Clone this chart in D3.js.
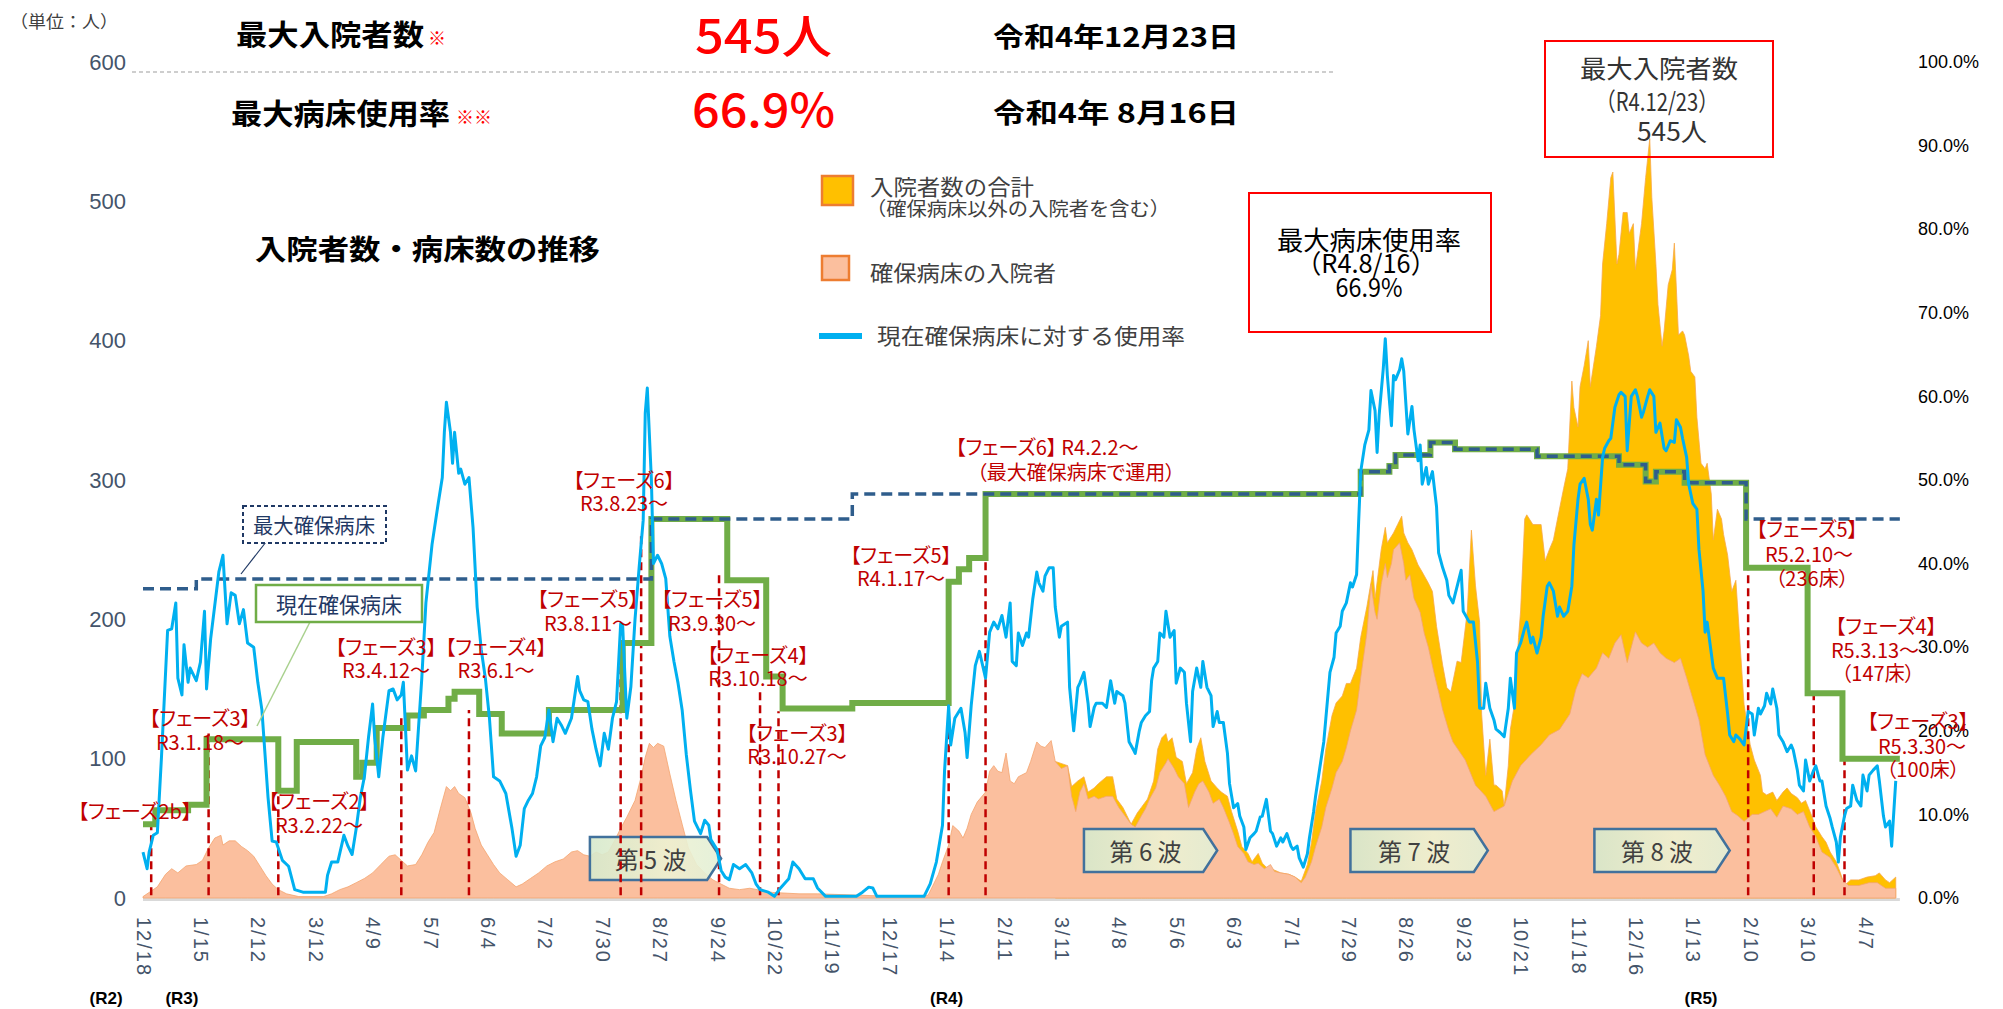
<!DOCTYPE html>
<html>
<head>
<meta charset="utf-8">
<script src="https://cdn.jsdelivr.net/npm/d3@7"></script>
<style>
  body { margin: 0; background: #fff; }
  svg text { font-family: "Noto Sans CJK JP", sans-serif; }
  .palt { font-feature-settings: "palt"; }
</style>
</head>
<body>
<div id="viz"></div>
<script>
// days counted from 2020-12-18 (R2.12.18)
var startDate = new Date(2020, 11, 18);

var tickLabels = ["12/18","1/15","2/12","3/12","4/9","5/7","6/4","7/2","7/30","8/27","9/24","10/22","11/19","12/17",
  "1/14","2/11","3/11","4/8","5/6","6/3","7/1","7/29","8/26","9/23","10/21","11/18","12/16","1/13","2/10","3/10","4/7"];
var eraLabels = [["(R2)", -18], ["(R3)", 19], ["(R4)", 392], ["(R5)", 760]];

// 現在確保病床に対する使用率 (%)
var usageRate = [
[0,5.5],[2,3.5],[3,5.5],[5,7.5],[7,7.8],[9,16.8],[12,32],[14,32.2],[16,35.3],[17,26.3],[19,24.3],[20,30.3],[22,25.8],[23,27.5],[26,26],[28,28.2],[30,34.3],[31,25],[33,31],[37,39],[39,41],[41,32.8],[43,36.5],[45,36.2],[47,32.8],[49,34.5],[51,30.5],[54,30],[56,25.8],[58,22.5],[61,12],[63,6.8],[65,6.7],[68,4.5],[71,3.8],[74,1],[78,0.7],[89,0.7],[90,2.7],[92,4.3],[95,4.3],[98,7.5],[100,6.2],[102,5.2],[104,8.3],[106,12],[108,14.5],[110,19.2],[112,23.2],[113,19.2],[115,14.5],[117,19.2],[120,24.8],[122,25],[124,23.7],[126,24.3],[127,25.8],[129,15.3],[131,17],[133,15.2],[136,26.3],[138,35.3],[141,42.3],[144,47.2],[146,50.3],[147,55.7],[148,59.3],[150,55.7],[151,52],[152,55.7],[154,50.8],[155,51.3],[157,49.5],[159,50.3],[161,44.3],[163,34.8],[165,29.7],[167,26.3],[169,21.5],[171,14.5],[174,14],[177,12.5],[180,8.3],[182,5],[184,6.3],[186,10.7],[188,11.7],[190,12.5],[192,14.5],[194,18.2],[196,19.2],[198,22.5],[200,18.7],[202,21.5],[204,20.7],[206,19.7],[209,21.5],[212,26.5],[213,24.8],[215,23.7],[217,23.5],[219,20.2],[221,17.8],[223,15.8],[225,19.7],[227,17.8],[229,21.5],[231,23.5],[233,32.8],[234,32.5],[236,21.5],[238,25.3],[240,33.3],[242,39.5],[244,45.2],[245,58],[246,61],[248,50],[249,40],[251,41],[253,40],[255,38.2],[257,31.3],[259,28.3],[261,25.7],[263,22.5],[265,17.2],[267,13],[269,9.2],[272,7.7],[274,9.3],[276,8.7],[277,7],[280,5.8],[282,3.3],[284,2.5],[286,2.2],[288,4],[291,3.5],[294,4],[297,3],[299,1.7],[301,1],[305,0.7],[308,0.2],[311,1.2],[315,2.3],[317,4.3],[320,3.5],[323,2.3],[327,2.3],[329,1.2],[333,0.2],[348,0.2],[351,0.7],[354,1.3],[356,1.2],[358,0.2],[381,0.2],[384,1.7],[387,4.3],[390,8.7],[391,15.2],[393,23],[394,18.3],[396,21.5],[399,22.7],[401,19.8],[402,16.8],[404,23],[406,27.8],[408,29.5],[411,26.3],[413,31.8],[415,33],[417,32.2],
[419,33.8],[421,31.2],[423,35.3],[424,28.3],[426,27.8],[427,31.7],[429,30.2],[431,31.7],[432,31.2],[434,35.7],[436,39],[437,37.7],[439,36.7],[440,38.5],[442,39.5],[444,39.5],[445,34.8],[447,31.2],[448,32.5],[451,33],[452,25.2],[454,20],[456,25.2],[457,25.7],[459,27],[461,23.3],[462,20.5],[464,22.8],[465,23.3],[468,23.3],[470,22.8],[472,26],[474,23.3],[475,24.7],[478,24.2],[479,23.3],[481,18.7],[483,17.8],[484,17.3],[486,20],[487,21],[489,21.8],[491,22.3],[492,26],[493,27.5],[495,28.3],[496,31.7],[498,31.2],[499,34.3],[501,31.2],[503,32],[504,25.7],[506,27.5],[508,27],[509,23.3],[511,18.7],[512,24.7],[514,27.5],[516,25.2],[517,28.3],[519,25.2],[521,24.2],[522,20.5],[524,22.3],[525,21],[527,21],[529,17.3],[530,13.7],[532,10.8],[534,11.3],[535,9.8],[537,8.5],[538,5.8],[540,7.2],[542,7.7],[543,8],[545,9.7],[546,9.8],[548,11.8],[550,8],[551,7.7],[553,6.2],[555,7.2],[556,6.7],[558,7.7],[560,6.2],[561,5.8],[563,6.2],[564,4.8],[566,3.7],[568,5.3],[569,7.2],[571,10.3],[572,12.2],[574,15.5],[576,18.7],[577,21.5],[579,27],[581,28.8],[582,31.7],[584,32.5],[585,34.3],[587,35.3],[589,37.7],[590,37.2],[592,38.7],[593,45],[594,51],[596,54.2],[598,56],[599,60.7],[601,58.3],[602,53.3],[603,57.8],[605,63.3],[606,66.9],[607,62.5],[609,56.5],[610,62.5],[611,62],[613,63.2],[614,64.5],[615,63],[617,55.5],[619,58.8],[620,56],[622,52.3],[623,54.2],[624,49.5],[626,51.5],[627,49.5],[629,51],[631,46.8],[632,41.3],[634,39.5],[636,38],[637,36.2],[639,35.3],
[643,39.2],[644,34.3],[647,33],[649,33],[651,28.2],[652,22.7],[654,22.7],[655,25.7],[657,22.7],[659,21.3],[660,20.2],[662,19.8],[664,19.3],[666,22.7],[667,26.3],[669,22.7],[670,29.3],[672,30.5],[674,32.3],[675,33],[677,30.5],[678,31.2],[680,29.3],[682,31.2],[683,33.7],[685,37.3],[686,37.7],[688,36.7],[690,33.7],[691,34.8],[693,33.7],[695,34.3],[697,37.3],[698,42.2],[700,47.7],[701,49.5],[703,50.2],[705,47.7],[706,44.7],[707,44],[709,47.7],[710,45.8],[712,52.7],[713,53.8],[715,54.7],[716,55],[718,58.7],[720,60.2],[721,60.5],[723,60],[724,53.5],[726,60],[728,60.8],[729,60],[731,57.5],[732,58.2],[734,60],[735,60.8],[737,60],[738,55.7],[740,56.8],[742,53.8],[743,53.5],[745,54.7],[747,54.5],[748,57.2],[750,56.3],[751,55],[753,52.7],[754,49.5],[756,47.2],[758,46.5],[759,41.7],[761,36.7],[762,31.8],[763,33],[765,29.3],[766,27.5],[768,26.3],[771,26.3],[773,22],[774,19.5],[776,18.7],[777,19.5],[779,19],[781,18.3],[783,22.3],[785,22],[786,19.5],[788,22.7],[789,22],[791,23],[792,24.5],[794,23.2],[795,25],[797,22.7],[798,19.5],[800,18.7],[802,17.5],[804,18.3],[805,17.7],[807,15.3],[808,13.5],[810,12.8],[811,16.5],[813,14],[815,15.3],[816,15.8],[818,14],[819,14],[821,11],[823,9.5],[824,8.5],[826,6.7],[827,4.3],[828,7.3],[830,9.8],[831,10.7],[833,11],[834,13.5],[836,11.7],[838,11],[839,14.7],[841,12.8],[842,14.7],[844,15.3],[846,15.8],[847,14],[849,9.8],[850,8.5],[852,9.2],[853,6.2],[855,14]
];

// 確保病床の入院者 (人)
var securedPatients = [
[0,1],[3,4],[7,8],[11,17],[14,21],[17,18],[21,23],[26,24],[29,27],[32,36],[35,43],[38,45],[39,38],[42,41],[45,41],[48,37],[51,34],[54,30],[57,23],[60,16],[63,10],[66,6],[70,3],[76,1],[88,1],[92,3],[96,6],[100,8],[104,11],[108,14],[112,18],[116,24],[120,30],[123,31],[126,27],[129,23],[133,24],[136,31],[139,40],[142,47],[145,64],[148,80],[150,77],[152,80],[154,75],[157,72],[160,61],[162,50],[165,38],[168,31],[171,24],[174,18],[178,13],[182,8],[185,10],[189,14],[193,18],[197,23],[201,26],[205,28],[209,33],[212,34],[215,31],[218,30],[221,33],[224,31],[227,33],[230,41],[233,50],[236,58],[240,70],[243,87],[245,101],[247,111],[249,108],[251,111],[254,109],[257,89],[260,70],[263,53],[266,36],[270,24],[274,18],[278,13],[282,10],[286,7],[291,6],[296,7],[307,4],[320,3],[329,3],[350,2],[368,1],[383,2],[388,17],[390,26],[393,38],[395,52],[398,48],[400,43],[402,50],[404,60],[407,69],[411,76],[413,91],[415,95],[417,91],
[419,90],[421,104],[423,84],[425,82],[427,87],[431,90],[433,98],[436,112],[438,109],[440,108],[443,113],[445,98],[448,93],[451,95],[453,73],[455,62],[457,76],[459,82],[461,71],[464,73],[466,71],[470,73],[473,73],[476,65],[479,59],[482,53],[484,51],[487,59],[489,64],[491,71],[494,79],[496,90],[499,97],[500,100],[503,93],[505,87],[508,82],[510,65],[513,76],[515,82],[517,84],[520,76],[522,68],[525,71],[527,65],[530,54],[532,46],[534,37],[537,32],[539,26],[542,24],[544,25],[547,21],[550,24],[552,19],[555,18],[559,17],[562,15],[565,11],[567,15],[570,26],[572,37],[575,51],[577,65],[580,79],[582,90],[585,98],[587,108],[589,120],[592,135],[594,158],[597,190],[599,225],[601,205],[602,200],[604,225],[606,240],[607,230],[609,240],[610,250],[613,255],[615,240],[616,228],[618,232],[620,215],[623,205],[625,190],[627,180],[630,160],[632,148],[634,135],[637,120],[639,112],
[645,99],[650,81],[655,73],[659,62],[664,66],[668,84],[672,95],[677,103],[682,110],[686,117],[691,121],[696,132],[699,150],[702,161],[705,158],[709,165],[712,176],[715,172],[718,183],[721,189],[724,169],[728,191],[731,183],[734,180],[737,183],[740,176],[743,172],[747,169],[750,172],[753,158],[756,143],[759,128],[762,103],[766,88],[769,81],[772,73],[775,62],[778,59],[781,55],[785,60],[788,60],[791,62],[794,64],[797,58],[800,66],[804,64],[807,60],[810,62],[813,51],[816,44],[819,33],[823,29],[826,22],[829,13],[832,9],[837,9],[842,11],[846,11],[850,7],[855,7]
];

// 入院者数の合計 (人) — equal to the secured figure before R4.3
var totalPatients = [
[445,98],[451,95],[453,80],[456,84],[459,87],[461,76],[464,79],[466,82],[470,87],[473,87],[475,71],[478,65],[480,59],[482,53],[485,61],[487,65],[490,71],[493,84],[495,107],[497,115],[499,118],[500,112],[502,115],[504,101],[507,98],[509,82],[512,90],[514,107],[516,115],[518,98],[521,84],[524,79],[526,76],[529,73],[531,62],[534,48],[536,37],[539,32],[541,26],[544,32],[546,25],[548,22],[552,20],[555,18],[559,17],[562,15],[565,12],[568,24],[570,40],[572,62],[575,84],[577,107],[580,131],[582,140],[585,145],[587,154],[589,154],[592,165],[594,187],[597,209],[600,235],[601,215],[604,250],[606,266],[607,255],[610,262],[612,268],[614,274],[615,262],[617,255],[619,250],[622,239],[624,234],[627,226],[629,220],[631,195],[634,167],[636,151],[638,148],[641,170],[643,169],[646,206],[648,264],[650,224],[652,198],[653,132],[655,88],[657,114],[659,81],[660,81],[663,77],[664,66],[666,95],[667,121],[669,139],[671,187],[672,206],[674,272],[675,275],[678,268],[680,268],[682,268],[684,242],[686,250],[688,257],[690,272],[693,294],[695,308],[697,371],[698,352],[700,338],[701,367],[703,382],[705,400],[706,367],[709,396],[711,418],[712,455],[714,484],[716,517],[717,521],[719,455],[720,462],[722,492],[724,492],[725,477],[727,484],[728,451],[730,473],[731,484],[733,517],[735,545],[736,503],[738,455],[739,426],[741,396],[742,407],[744,440],[746,451],[747,470],[749,404],[751,407],[752,404],[754,389],[755,378],[757,374],[758,345],[760,312],[762,308],[763,312],[765,290],[766,257],[768,279],[770,272],[771,261],[773,246],[775,220],[777,228],[778,206],[780,161],[781,139],[784,110],[786,99],[789,88],[790,76],[792,74],[795,76],[797,70],[800,76],[802,79],[804,75],[807,72],[809,68],[811,70],[814,59],[816,51],[819,44],[821,40],[823,33],[826,26],[828,18],[830,9],[833,13],[837,13],[841,15],[845,16],[847,18],[850,13],[852,11],[855,15]
];

// 現在確保病床 (床), value holds from that day on
var currentBeds = [[0,53],[6,63],[22,67],[31,114],[66,77],[75,112],[104,87],[107,97],[114,122],[129,131],[137,135],[149,143],[152,148],[164,132],[175,118],[198,135],[234,183],[248,272],[285,228],[304,159],[312,136],[346,140],[393,227],[398,236],[403,244],[411,290],[594,306],[608,310],[611,318],[628,327],[640,322],[680,317],[720,311],[733,299],[738,306],[752,298],[782,237],[812,147],[829,100],[857,100]];
// 最大確保病床 (床)
var maxBeds = [[0,222],[26,229],[248,272],[346,290],[594,306],[608,310],[611,318],[628,327],[640,322],[680,317],[720,311],[733,299],[738,306],[752,298],[782,272],[857,272]];

// phase change markers: [day, top of the marker in 人]
var phaseMarks = [[4,53],[32,118],[66,82],[126,129],[159,135],[233,192],[243,260],[281,234],[301,150],[310,134],[393,227],[411,289],[783,239],[815,149],[830,101]];

var waves = [["第 5 波", 218, 282], ["第 6 波", 459, 524], ["第 7 波", 589, 656], ["第 8 波", 708, 774]];

function day(d) { return d3.timeDay.offset(startDate, d); }

var svg = d3.select("#viz").append("svg")
  .attr("width", 2003).attr("height", 1009);

var defs = svg.append("defs");
var grad = defs.append("linearGradient").attr("id", "waveFill");
grad.append("stop").attr("offset", "0%").attr("stop-color", "#d6e9cc");
grad.append("stop").attr("offset", "60%").attr("stop-color", "#eef2d2");
grad.append("stop").attr("offset", "100%").attr("stop-color", "#e2efd6");

var x = d3.scaleTime().domain([day(0), day(840)]).range([143, 1865]);
var yL = d3.scaleLinear().domain([0, 600]).range([898, 62]);
var yR = d3.scaleLinear().domain([0, 100]).range([898, 62]);

function txt(parent, px, py, s, o) {
  o = o || {};
  var t = parent.append("text")
    .attr("x", px).attr("y", py)
    .attr("dominant-baseline", "central")
    .attr("text-anchor", o.anchor || "start")
    .attr("font-size", o.size || 16)
    .attr("font-weight", o.weight || "normal")
    .attr("fill", o.fill || "#000")
    .text(s);
  if (o.family) t.style("font-family", o.family);
  if (o.palt) t.attr("class", "palt");
  if (o.len) t.attr("textLength", o.len).attr("lengthAdjust", "spacingAndGlyphs");
  return t;
}

// x axis base
svg.append("line")
  .attr("x1", x(day(0))).attr("x2", x(day(857)))
  .attr("y1", 899.5).attr("y2", 899.5)
  .attr("stroke", "#d9d9d9").attr("stroke-width", 3);

// areas
var area = d3.area()
  .x(function(d) { return x(day(d[0])); })
  .y0(yL(0))
  .y1(function(d) { return yL(d[1]); });

svg.append("path").datum(totalPatients)
  .attr("d", area)
  .attr("fill", "#ffc000")
  .attr("stroke", "#f7a84a").attr("stroke-width", 0.8);

svg.append("path").datum(securedPatients)
  .attr("d", area)
  .attr("fill", "#fbbf9e")
  .attr("stroke", "#f4a46e").attr("stroke-width", 0.8);

// wave labels
waves.forEach(function(w) {
  var x0 = x(day(w[1])), x1 = x(day(w[2]));
  var y0 = w[0] == "第 5 波" ? 837 : 829, y1 = y0 + 43;
  svg.append("polygon")
    .attr("points", [[x0, y0], [x1 - 14, y0], [x1, (y0 + y1) / 2], [x1 - 14, y1], [x0, y1]].join(" "))
    .attr("fill", "url(#waveFill)")
    .attr("fill-opacity", 0.9)
    .attr("stroke", "#41719c").attr("stroke-width", 2.5);
  txt(svg, (x0 + x1 - 10) / 2, (y0 + y1) / 2, w[0], {size: 24, anchor: "middle", fill: "#404040"});
});

// phase markers
svg.selectAll("line.phase")
  .data(phaseMarks)
  .enter()
  .append("line")
  .attr("class", "phase")
  .attr("x1", function(d) { return x(day(d[0])); })
  .attr("x2", function(d) { return x(day(d[0])); })
  .attr("y1", yL(2))
  .attr("y2", function(d) { return yL(d[1]); })
  .attr("stroke", "#c00000")
  .attr("stroke-width", 2.5)
  .attr("stroke-dasharray", "8,5");

// bed lines
var step = d3.line()
  .curve(d3.curveStepAfter)
  .x(function(d) { return x(day(d[0])); })
  .y(function(d) { return yL(d[1]); });

svg.append("path").datum(currentBeds)
  .attr("d", step)
  .attr("fill", "none")
  .attr("stroke", "#70ad47").attr("stroke-width", 6);

svg.append("path").datum(maxBeds)
  .attr("d", step)
  .attr("fill", "none")
  .attr("stroke", "#2f5d8c").attr("stroke-width", 3.5)
  .attr("stroke-dasharray", "11,6");

// usage rate
var rateLine = d3.line()
  .x(function(d) { return x(day(d[0])); })
  .y(function(d) { return yR(d[1]); });

svg.append("path").datum(usageRate)
  .attr("d", rateLine)
  .attr("fill", "none")
  .attr("stroke", "#00b0f0").attr("stroke-width", 3)
  .attr("stroke-linejoin", "round");

// axes
var axisFont = "'Liberation Sans Narrow', 'Liberation Sans', sans-serif";
svg.append("g")
  .attr("transform", "translate(143,0)")
  .call(d3.axisLeft(yL).tickValues(d3.range(0, 601, 100)).tickSize(0).tickPadding(17))
  .call(function(g) { g.select(".domain").remove(); })
  .selectAll("text")
  .attr("font-size", 22).attr("fill", "#44546a").style("font-family", axisFont);

svg.append("g")
  .attr("transform", "translate(1918,0)")
  .call(d3.axisRight(yR).tickValues(d3.range(0, 101, 10)).tickSize(0).tickPadding(0)
    .tickFormat(function(d) { return d.toFixed(1) + "%"; }))
  .call(function(g) { g.select(".domain").remove(); })
  .selectAll("text")
  .attr("font-size", 18).attr("fill", "#000").style("font-family", "'Liberation Sans', sans-serif");

var tickDates = tickLabels.map(function(s, i) { return day(i * 28); });
svg.append("g")
  .attr("transform", "translate(0,898)")
  .call(d3.axisBottom(x).tickValues(tickDates).tickSize(0)
    .tickFormat(function(d, i) { return tickLabels[i]; }))
  .call(function(g) { g.select(".domain").remove(); })
  .selectAll("text")
  .attr("transform", "rotate(90)")
  .attr("x", 19).attr("y", 0).attr("dy", "0.35em")
  .attr("text-anchor", "start")
  .attr("font-size", 20).attr("fill", "#44546a")
  .style("letter-spacing", "2px")
  .style("font-family", "'Liberation Sans', sans-serif");

eraLabels.forEach(function(e) {
  txt(svg, x(day(e[1])), 998, e[0], {size: 17, weight: "bold", anchor: "middle", family: axisFont});
});

// header
txt(svg, 10, 20, "（単位：人）", {size: 17, fill: "#404040", len: 108});
txt(svg, 236, 33, "最大入院者数", {size: 29, weight: "bold", len: 188});
txt(svg, 428, 37, "※", {size: 18, fill: "#ff0000"});
txt(svg, 695, 33, "545人", {size: 46, weight: 500, fill: "#ff0000", len: 137});
txt(svg, 993, 35, "令和4年12月23日", {size: 27, weight: "bold", len: 246});
svg.append("line")
  .attr("x1", 132).attr("x2", 1335).attr("y1", 72).attr("y2", 72)
  .attr("stroke", "#bfbfbf").attr("stroke-width", 1.5).attr("stroke-dasharray", "4,3");
txt(svg, 231, 112, "最大病床使用率", {size: 29, weight: "bold", len: 219});
txt(svg, 456, 116, "※※", {size: 18, fill: "#ff0000"});
txt(svg, 692, 107, "66.9%", {size: 46, weight: 500, fill: "#ff0000", len: 143});
txt(svg, 993, 111, "令和4年 8月16日", {size: 27, weight: "bold", len: 246});

txt(svg, 255, 248, "入院者数・病床数の推移", {size: 28, weight: "bold", len: 345});

// legend
svg.append("rect").attr("x", 822).attr("y", 176).attr("width", 31).attr("height", 29)
  .attr("fill", "#ffc000").attr("stroke", "#ed7d31").attr("stroke-width", 2.5);
txt(svg, 870, 185, "入院者数の合計", {size: 22, fill: "#404040", len: 164});
txt(svg, 866, 207, "（確保病床以外の入院者を含む）", {size: 19, fill: "#404040", len: 304});
svg.append("rect").attr("x", 822).attr("y", 256).attr("width", 27).attr("height", 24)
  .attr("fill", "#fbbf9e").attr("stroke", "#ed7d31").attr("stroke-width", 2.5);
txt(svg, 870, 271, "確保病床の入院者", {size: 22, fill: "#404040", len: 186});
svg.append("line").attr("x1", 819).attr("x2", 862).attr("y1", 336).attr("y2", 336)
  .attr("stroke", "#00b0f0").attr("stroke-width", 6);
txt(svg, 877, 334, "現在確保病床に対する使用率", {size: 22, fill: "#404040", len: 308});

// max usage box
svg.append("rect").attr("x", 1249).attr("y", 193).attr("width", 242).attr("height", 139)
  .attr("fill", "#fff").attr("stroke", "#ff0000").attr("stroke-width", 2);
txt(svg, 1369, 238, "最大病床使用率", {size: 26, anchor: "middle", len: 184});
txt(svg, 1366, 261, "（R4.8/16）", {size: 26, anchor: "middle", len: 140});
txt(svg, 1369, 285, "66.9%", {size: 26, anchor: "middle", len: 67});

// max patients box
svg.append("rect").attr("x", 1545).attr("y", 41).attr("width", 228).attr("height", 116)
  .attr("fill", "none").attr("stroke", "#ff0000").attr("stroke-width", 2);
txt(svg, 1659, 67, "最大入院者数", {size: 25, anchor: "middle", fill: "#333", len: 158});
txt(svg, 1657, 100, "（R4.12/23）", {size: 25, anchor: "middle", fill: "#333", len: 123});
txt(svg, 1672, 130, "545人", {size: 25, anchor: "middle", fill: "#333", len: 70});

// bed line callouts
svg.append("line").attr("x1", 266).attr("y1", 542).attr("x2", 241).attr("y2", 574)
  .attr("stroke", "#1f3864").attr("stroke-width", 1.2);
svg.append("rect").attr("x", 243).attr("y", 506).attr("width", 143).attr("height", 37)
  .attr("fill", "#fff").attr("stroke", "#1f3864").attr("stroke-width", 2).attr("stroke-dasharray", "4,3");
txt(svg, 314, 524, "最大確保病床", {size: 21, anchor: "middle", fill: "#1f3864", len: 122});

svg.append("line").attr("x1", 310).attr("y1", 622).attr("x2", 257).attr("y2", 726)
  .attr("stroke", "#a9d18e").attr("stroke-width", 1.5);
svg.append("rect").attr("x", 256).attr("y", 585).attr("width", 166).attr("height", 37)
  .attr("fill", "#fff").attr("stroke", "#70ad47").attr("stroke-width", 2.5);
txt(svg, 339, 603, "現在確保病床", {size: 22, anchor: "middle", fill: "#1f3864", len: 126});

// phase notes
var notes = [
  ["【フェーズ2b】", 135, 810], ["【フェーズ3】", 200, 717], ["R3.1.18～", 200, 741],
  ["【フェーズ2】", 319, 800], ["R3.2.22～", 319, 824],
  ["【フェーズ3】", 386, 646], ["R3.4.12～", 386, 669],
  ["【フェーズ4】", 496, 646], ["R3.6.1～", 496, 669],
  ["【フェーズ5】", 588, 598], ["R3.8.11～", 588, 622],
  ["【フェーズ6】", 624, 479], ["R3.8.23～", 624, 502],
  ["【フェーズ5】", 712, 598], ["R3.9.30～", 712, 622],
  ["【フェーズ4】", 758, 654], ["R3.10.18～", 758, 677],
  ["【フェーズ3】", 797, 732], ["R3.10.27～", 797, 755],
  ["【フェーズ5】", 901, 554], ["R4.1.17～", 901, 577],
  ["【フェーズ6】 R4.2.2～", 1047, 446], ["（最大確保病床で運用）", 1076, 471],
  ["【フェーズ5】", 1807, 528], ["R5.2.10～", 1809, 553], ["（236床）", 1812, 577],
  ["【フェーズ4】", 1886, 625], ["R5.3.13～", 1875, 649], ["（147床）", 1878, 672],
  ["【フェーズ3】", 1918, 720], ["R5.3.30～", 1922, 745], ["（100床）", 1923, 768]
];
notes.forEach(function(n) {
  txt(svg, n[1], n[2], n[0], {size: 20, anchor: "middle", fill: "#c00000", palt: true});
});
</script>
</body>
</html>
